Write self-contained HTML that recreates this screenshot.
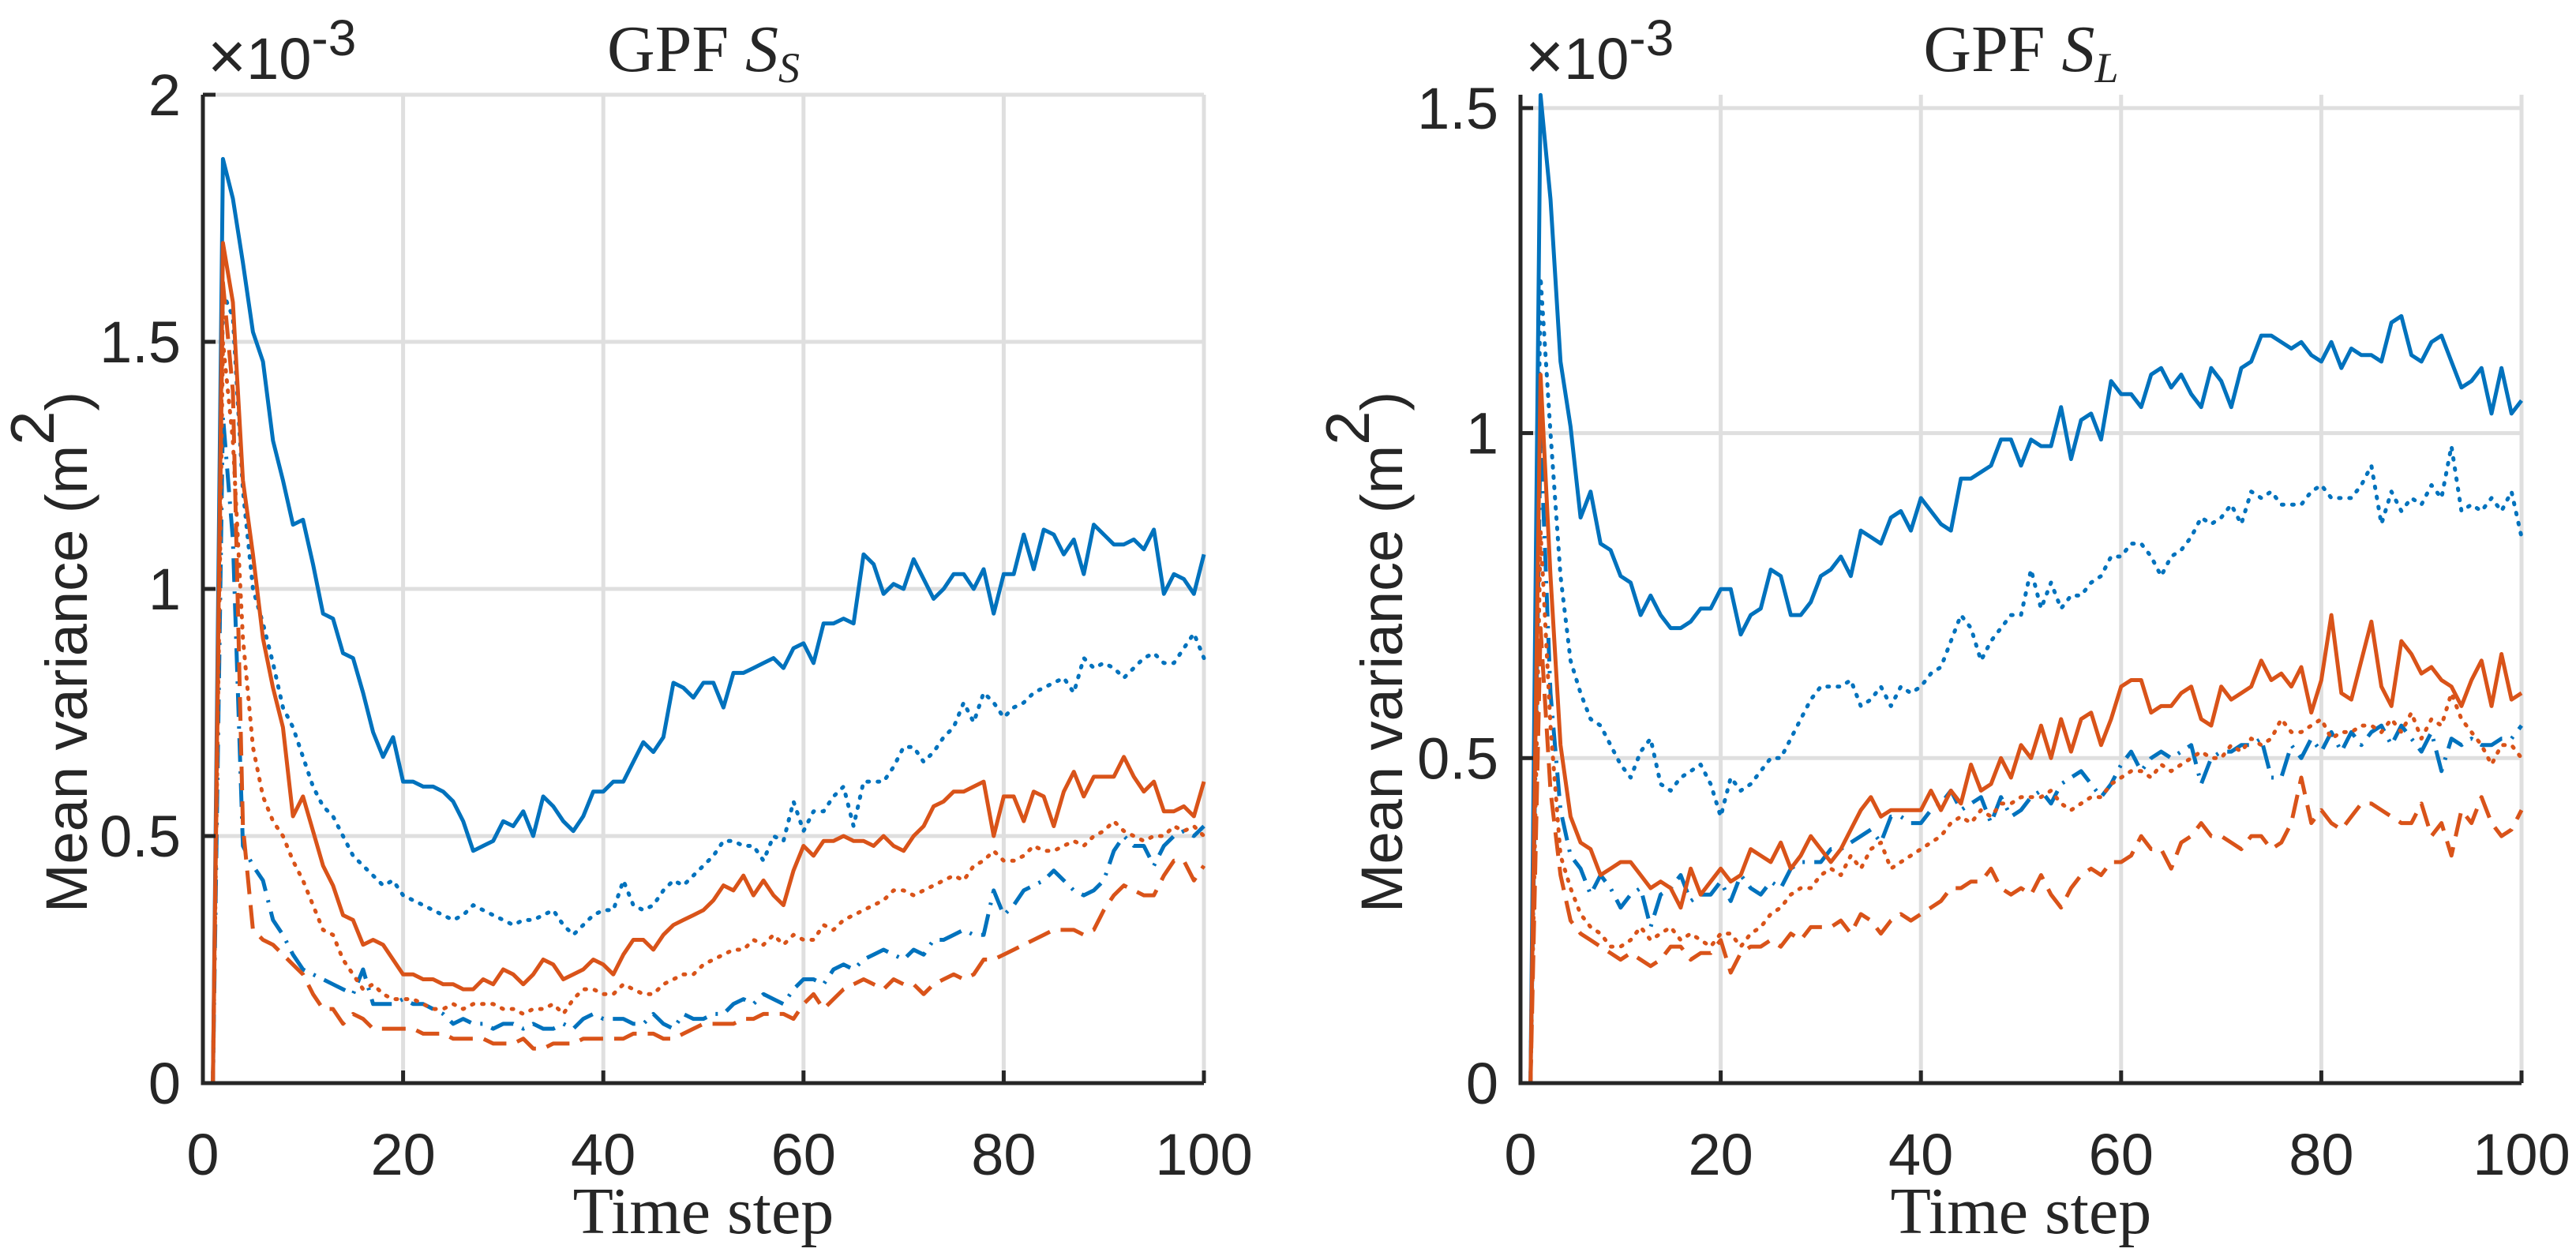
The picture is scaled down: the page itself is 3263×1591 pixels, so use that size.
<!DOCTYPE html>
<html><head><meta charset="utf-8">
<style>
html,body{margin:0;padding:0;background:#fff;}
svg{display:block;}
.tick{font-family:"Liberation Sans",sans-serif;font-size:74px;fill:#262626;}
.serif{font-family:"Liberation Serif",serif;fill:#262626;}
</style></head>
<body>
<svg id="chart" width="3263" height="1591" viewBox="0 0 3263 1591" xmlns="http://www.w3.org/2000/svg">
<rect width="3263" height="1591" fill="#fff"/>
</svg>
<script>
const steps = Array.from({length:100},(_, i)=>i+1);
const xTicks = [0,20,40,60,80,100];
const yTicksLeft = [0,0.5,1,1.5,2];
const yTickLabelsLeft = ["0","0.5","1","1.5","2"];
const yTicksRight = [0,0.5,1,1.5];
const yTickLabelsRight = ["0","0.5","1","1.5"];

const leftBlueSolid=[0,1.87,1.79,1.66,1.52,1.46,1.30,1.22,1.13,1.14,1.05,0.95,0.94,0.87,0.86,0.79,0.71,0.66,0.70,0.61,0.61,0.60,0.60,0.59,0.57,0.53,0.47,0.48,0.49,0.53,0.52,0.55,0.50,0.58,0.56,0.53,0.51,0.54,0.59,0.59,0.61,0.61,0.65,0.69,0.67,0.70,0.81,0.80,0.78,0.81,0.81,0.76,0.83,0.83,0.84,0.85,0.86,0.84,0.88,0.89,0.85,0.93,0.93,0.94,0.93,1.07,1.05,0.99,1.01,1.00,1.06,1.02,0.98,1.00,1.03,1.03,1.00,1.04,0.95,1.03,1.03,1.11,1.04,1.12,1.11,1.07,1.10,1.03,1.13,1.11,1.09,1.09,1.10,1.08,1.12,0.99,1.03,1.02,0.99,1.07];
const leftBlueDotted=[0,1.60,1.55,1.20,1.00,0.93,0.85,0.76,0.72,0.66,0.60,0.56,0.54,0.50,0.46,0.44,0.42,0.40,0.41,0.38,0.37,0.36,0.35,0.34,0.33,0.34,0.36,0.35,0.34,0.33,0.32,0.33,0.33,0.34,0.35,0.32,0.30,0.32,0.34,0.35,0.35,0.41,0.36,0.35,0.36,0.39,0.41,0.40,0.42,0.44,0.46,0.49,0.49,0.48,0.48,0.45,0.50,0.49,0.57,0.51,0.55,0.55,0.58,0.60,0.52,0.61,0.61,0.61,0.64,0.68,0.68,0.65,0.67,0.70,0.72,0.77,0.73,0.79,0.77,0.74,0.76,0.77,0.79,0.80,0.81,0.82,0.79,0.86,0.84,0.85,0.84,0.82,0.84,0.86,0.87,0.85,0.85,0.88,0.91,0.86];
const leftBlueDashDot=[0,1.35,1.10,0.48,0.44,0.41,0.33,0.30,0.26,0.23,0.22,0.21,0.20,0.19,0.18,0.23,0.16,0.16,0.16,0.17,0.16,0.16,0.15,0.14,0.12,0.13,0.12,0.12,0.11,0.12,0.12,0.11,0.12,0.11,0.11,0.12,0.11,0.13,0.14,0.13,0.13,0.13,0.12,0.12,0.14,0.12,0.11,0.14,0.13,0.13,0.14,0.14,0.16,0.17,0.16,0.18,0.17,0.16,0.19,0.21,0.21,0.20,0.23,0.24,0.23,0.25,0.26,0.27,0.26,0.25,0.27,0.26,0.29,0.29,0.30,0.31,0.30,0.30,0.39,0.34,0.36,0.39,0.40,0.41,0.43,0.41,0.39,0.38,0.39,0.41,0.47,0.50,0.48,0.48,0.44,0.48,0.50,0.51,0.50,0.52];
const leftOrangeSolid=[0,1.70,1.58,1.22,1.07,0.90,0.80,0.72,0.54,0.58,0.51,0.44,0.40,0.34,0.33,0.28,0.29,0.28,0.25,0.22,0.22,0.21,0.21,0.20,0.20,0.19,0.19,0.21,0.20,0.23,0.22,0.20,0.22,0.25,0.24,0.21,0.22,0.23,0.25,0.24,0.22,0.26,0.29,0.29,0.27,0.30,0.32,0.33,0.34,0.35,0.37,0.40,0.39,0.42,0.38,0.41,0.38,0.36,0.43,0.48,0.46,0.49,0.49,0.50,0.49,0.49,0.48,0.50,0.48,0.47,0.50,0.52,0.56,0.57,0.59,0.59,0.60,0.61,0.50,0.58,0.58,0.53,0.59,0.58,0.52,0.59,0.63,0.58,0.62,0.62,0.62,0.66,0.62,0.59,0.61,0.55,0.55,0.56,0.54,0.61];
const leftOrangeDotted=[0,1.50,1.30,0.90,0.68,0.58,0.53,0.50,0.45,0.41,0.36,0.31,0.30,0.25,0.22,0.19,0.20,0.18,0.17,0.17,0.17,0.16,0.15,0.15,0.16,0.15,0.16,0.16,0.16,0.15,0.15,0.14,0.15,0.15,0.16,0.14,0.17,0.19,0.19,0.18,0.18,0.20,0.19,0.18,0.18,0.20,0.21,0.22,0.22,0.24,0.25,0.26,0.27,0.27,0.29,0.28,0.30,0.28,0.30,0.29,0.29,0.32,0.31,0.33,0.34,0.35,0.36,0.37,0.39,0.39,0.38,0.39,0.40,0.41,0.42,0.41,0.44,0.45,0.47,0.45,0.45,0.46,0.48,0.47,0.47,0.48,0.49,0.48,0.50,0.51,0.53,0.51,0.50,0.49,0.50,0.50,0.52,0.51,0.52,0.50];
const leftOrangeDashed=[0,1.62,1.40,0.52,0.31,0.29,0.28,0.26,0.24,0.22,0.18,0.15,0.15,0.12,0.14,0.13,0.11,0.11,0.11,0.11,0.11,0.10,0.10,0.10,0.09,0.09,0.09,0.09,0.08,0.08,0.08,0.09,0.07,0.07,0.08,0.08,0.08,0.09,0.09,0.09,0.09,0.09,0.10,0.10,0.10,0.09,0.09,0.10,0.11,0.12,0.12,0.12,0.12,0.13,0.13,0.14,0.14,0.14,0.13,0.16,0.18,0.15,0.17,0.19,0.20,0.21,0.20,0.19,0.21,0.20,0.20,0.18,0.20,0.21,0.22,0.21,0.22,0.25,0.25,0.26,0.27,0.28,0.29,0.30,0.31,0.31,0.31,0.30,0.31,0.35,0.38,0.40,0.39,0.38,0.38,0.42,0.45,0.45,0.41,0.44];

const rightBlueSolid=[0,1.52,1.36,1.11,1.01,0.87,0.91,0.83,0.82,0.78,0.77,0.72,0.75,0.72,0.70,0.70,0.71,0.73,0.73,0.76,0.76,0.69,0.72,0.73,0.79,0.78,0.72,0.72,0.74,0.78,0.79,0.81,0.78,0.85,0.84,0.83,0.87,0.88,0.85,0.90,0.88,0.86,0.85,0.93,0.93,0.94,0.95,0.99,0.99,0.95,0.99,0.98,0.98,1.04,0.96,1.02,1.03,0.99,1.08,1.06,1.06,1.04,1.09,1.10,1.07,1.09,1.06,1.04,1.10,1.08,1.04,1.10,1.11,1.15,1.15,1.14,1.13,1.14,1.12,1.11,1.14,1.10,1.13,1.12,1.12,1.11,1.17,1.18,1.12,1.11,1.14,1.15,1.11,1.07,1.08,1.10,1.03,1.10,1.03,1.05];
const rightBlueDotted=[0,1.24,1.00,0.78,0.65,0.60,0.56,0.55,0.52,0.49,0.47,0.51,0.53,0.46,0.45,0.47,0.48,0.49,0.46,0.41,0.47,0.45,0.46,0.48,0.50,0.50,0.53,0.56,0.59,0.61,0.61,0.61,0.62,0.58,0.59,0.61,0.58,0.61,0.60,0.61,0.63,0.64,0.68,0.72,0.70,0.65,0.68,0.70,0.72,0.72,0.79,0.73,0.77,0.73,0.75,0.75,0.77,0.78,0.81,0.81,0.83,0.83,0.81,0.78,0.81,0.82,0.84,0.87,0.86,0.87,0.89,0.86,0.91,0.90,0.91,0.89,0.89,0.89,0.91,0.92,0.90,0.90,0.90,0.92,0.95,0.86,0.91,0.88,0.90,0.89,0.92,0.90,0.98,0.88,0.89,0.88,0.90,0.88,0.91,0.84];
const rightBlueDashDot=[0,1.00,0.60,0.42,0.35,0.33,0.29,0.32,0.30,0.27,0.29,0.30,0.24,0.29,0.30,0.32,0.28,0.29,0.29,0.31,0.28,0.32,0.30,0.29,0.31,0.30,0.33,0.34,0.34,0.34,0.36,0.36,0.37,0.38,0.39,0.37,0.41,0.41,0.40,0.40,0.42,0.43,0.45,0.42,0.43,0.44,0.40,0.44,0.41,0.42,0.44,0.45,0.43,0.46,0.47,0.48,0.46,0.44,0.46,0.49,0.51,0.48,0.50,0.51,0.50,0.51,0.52,0.46,0.50,0.51,0.51,0.52,0.52,0.53,0.47,0.47,0.52,0.50,0.53,0.51,0.54,0.51,0.54,0.52,0.54,0.55,0.52,0.55,0.53,0.51,0.54,0.48,0.53,0.52,0.53,0.52,0.52,0.53,0.53,0.55];
const rightOrangeSolid=[0,1.09,0.78,0.52,0.41,0.37,0.36,0.32,0.33,0.34,0.34,0.32,0.30,0.31,0.30,0.27,0.33,0.29,0.31,0.33,0.31,0.32,0.36,0.35,0.34,0.37,0.33,0.35,0.38,0.36,0.34,0.36,0.39,0.42,0.44,0.41,0.42,0.42,0.42,0.42,0.45,0.42,0.45,0.43,0.49,0.45,0.46,0.50,0.47,0.52,0.50,0.55,0.50,0.56,0.51,0.56,0.57,0.52,0.56,0.61,0.62,0.62,0.57,0.58,0.58,0.60,0.61,0.56,0.55,0.61,0.59,0.60,0.61,0.65,0.62,0.63,0.61,0.64,0.57,0.62,0.72,0.60,0.59,0.65,0.71,0.61,0.58,0.68,0.66,0.63,0.64,0.62,0.61,0.58,0.62,0.65,0.58,0.66,0.59,0.60];
const rightOrangeDotted=[0,0.85,0.55,0.35,0.30,0.26,0.24,0.23,0.21,0.21,0.22,0.24,0.22,0.23,0.24,0.22,0.23,0.22,0.21,0.23,0.23,0.21,0.23,0.24,0.26,0.27,0.29,0.30,0.30,0.32,0.33,0.32,0.35,0.33,0.36,0.37,0.33,0.34,0.35,0.36,0.37,0.38,0.40,0.41,0.40,0.42,0.41,0.43,0.43,0.44,0.44,0.44,0.45,0.43,0.42,0.43,0.44,0.44,0.46,0.47,0.48,0.48,0.47,0.49,0.48,0.49,0.50,0.51,0.50,0.50,0.52,0.51,0.53,0.52,0.53,0.56,0.54,0.54,0.55,0.56,0.53,0.54,0.54,0.55,0.55,0.54,0.56,0.54,0.57,0.53,0.56,0.55,0.60,0.56,0.54,0.52,0.49,0.52,0.52,0.50];
const rightOrangeDashed=[0,0.70,0.45,0.32,0.25,0.23,0.22,0.21,0.20,0.19,0.20,0.19,0.18,0.19,0.21,0.21,0.19,0.20,0.20,0.22,0.17,0.20,0.21,0.21,0.22,0.21,0.23,0.22,0.24,0.24,0.24,0.25,0.23,0.26,0.25,0.23,0.25,0.26,0.25,0.26,0.27,0.28,0.30,0.30,0.31,0.31,0.33,0.30,0.29,0.30,0.29,0.32,0.29,0.27,0.30,0.32,0.33,0.32,0.34,0.34,0.35,0.38,0.36,0.36,0.33,0.37,0.38,0.40,0.38,0.38,0.37,0.36,0.38,0.38,0.36,0.37,0.40,0.47,0.40,0.42,0.40,0.39,0.41,0.43,0.43,0.42,0.41,0.40,0.40,0.43,0.38,0.40,0.35,0.42,0.40,0.44,0.40,0.38,0.39,0.42];

const BLUE="#0072BD", ORANGE="#D95319";
const NS="http://www.w3.org/2000/svg";
const svg=document.getElementById('chart');
function mk(tag,attrs,parent){const e=document.createElementNS(NS,tag);for(const k in attrs)e.setAttribute(k,attrs[k]);(parent||svg).appendChild(e);return e;}

const DOT="2,11", DASH="30,14", DASHDOT="30,12,3,12";

function drawPanel(p){
  const g=mk('g',{});
  
  
  const L=p.x0,R=p.x1,T=120,B=1372;
  const xs=v=>L+(v-0)/(100-0)*(R-L);
  const ys=v=>B-(v-0)/(p.ymax)*(B-T);
  xTicks.forEach(t=>{ if(t>0){const l=mk('line',{x1:xs(t),x2:xs(t),y1:T,y2:B,stroke:'#dfdfdf','stroke-width':5},g);
    
    }});
  p.yt.forEach(t=>{ if(t>0){const l=mk('line',{x1:L,x2:R,y1:ys(t),y2:ys(t),stroke:'#dfdfdf','stroke-width':5},g);
    
    }});
  p.series.forEach(s=>{
    const d=s.v.map((v,i)=>(i?'L':'M')+xs(steps[i]).toFixed(1)+','+ys(v).toFixed(1)).join('');
    const a={d:d,fill:'none',stroke:s.c,'stroke-width':5,'stroke-linejoin':'round'};
    if(s.dash)a['stroke-dasharray']=s.dash;
    if(s.dash===DOT)a['stroke-linecap']='round';
    const path=mk('path',a,g);
    
    
  });
  const ax=mk('path',{d:`M${L},${T}L${L},${B}L${R},${B}`,fill:'none',stroke:'#262626','stroke-width':5},g);
  
  
  xTicks.forEach(t=>{
    mk('line',{x1:xs(t),x2:xs(t),y1:B,y2:B-16,stroke:'#262626','stroke-width':5},g);
    const tx=mk('text',{x:xs(t),y:1488,'text-anchor':'middle',class:'tick'},g);
    tx.textContent=t;
    
    
  });
  p.yt.forEach((t,i)=>{
    mk('line',{x1:L,x2:L+16,y1:ys(t),y2:ys(t),stroke:'#262626','stroke-width':5},g);
    const tx=mk('text',{x:L-28,y:ys(t)+26,'text-anchor':'end',class:'tick'},g);
    tx.textContent=p.yl[i];
    
    
  });
  const ex=mk('text',{x:L+6,y:100,class:'tick'},g);
  ex.innerHTML='<tspan font-size="84">×</tspan>10<tspan dy="-30" font-size="64">-3</tspan>';
  
  
  const ti=mk('text',{x:(L+R)/2,y:90,'text-anchor':'middle',class:'serif','font-size':84},g);
  ti.innerHTML='GPF <tspan font-style="italic">S</tspan><tspan font-style="italic" font-size="54" dy="14">'+p.sub+'</tspan>';
  
  
  const xl=mk('text',{x:(L+R)/2,y:1562,'text-anchor':'middle',class:'serif','font-size':84},g);
  xl.textContent='Time step';
  
  
  const yl=mk('text',{x:0,y:0,'text-anchor':'middle',class:'tick','font-size':112,transform:`translate(${p.ylx},826) rotate(-90)`},g);
  yl.innerHTML='Mean variance (m<tspan dy="-42" font-size="78">2</tspan><tspan dy="42">)</tspan>';
  
  
}

drawPanel({name:'panel-gpf-ss',x0:257,x1:1525,ymax:2,yt:yTicksLeft,yl:yTickLabelsLeft,sub:'S',ylx:110,
 series:[
  {n:'blue-solid-line',v:leftBlueSolid,c:BLUE},
  {n:'blue-dotted-line',v:leftBlueDotted,c:BLUE,dash:DOT},
  {n:'blue-dashdot-line',v:leftBlueDashDot,c:BLUE,dash:DASHDOT},
  {n:'orange-solid-line',v:leftOrangeSolid,c:ORANGE},
  {n:'orange-dotted-line',v:leftOrangeDotted,c:ORANGE,dash:DOT},
  {n:'orange-dashed-line',v:leftOrangeDashed,c:ORANGE,dash:DASH}]});
drawPanel({name:'panel-gpf-sl',x0:1926,x1:3194,ymax:1.5205,yt:yTicksRight,yl:yTickLabelsRight,sub:'L',ylx:1776,
 series:[
  {n:'blue-solid-line',v:rightBlueSolid,c:BLUE},
  {n:'blue-dotted-line',v:rightBlueDotted,c:BLUE,dash:DOT},
  {n:'blue-dashdot-line',v:rightBlueDashDot,c:BLUE,dash:DASHDOT},
  {n:'orange-solid-line',v:rightOrangeSolid,c:ORANGE},
  {n:'orange-dotted-line',v:rightOrangeDotted,c:ORANGE,dash:DOT},
  {n:'orange-dashed-line',v:rightOrangeDashed,c:ORANGE,dash:DASH}]});
</script>
</body></html>
